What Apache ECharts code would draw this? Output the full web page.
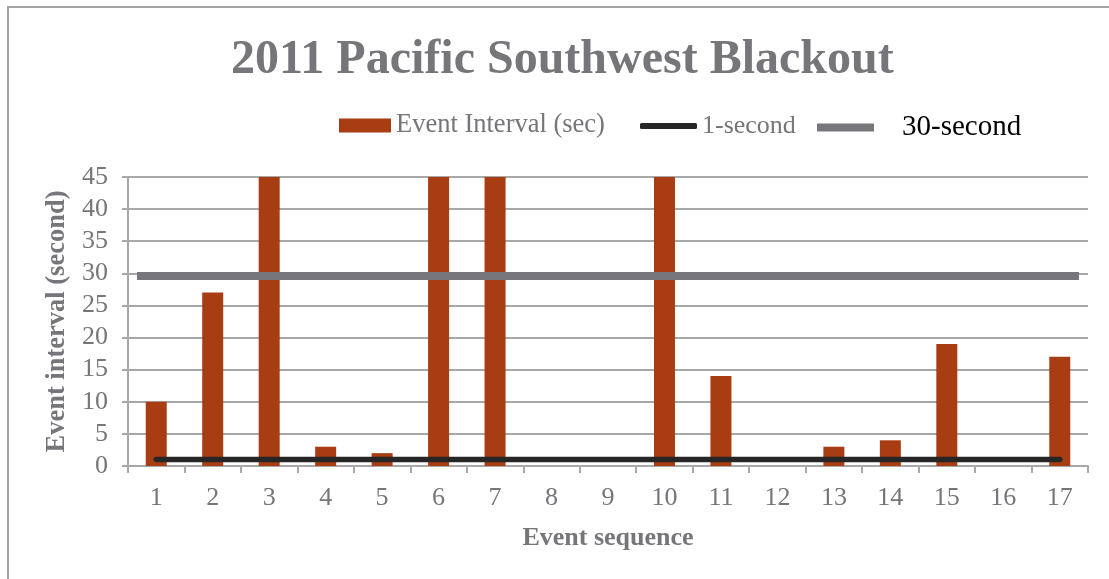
<!DOCTYPE html>
<html>
<head>
<meta charset="utf-8">
<script src="https://cdn.jsdelivr.net/npm/echarts@6/dist/echarts.min.js"></script>
<style>
  html, body { margin: 0; padding: 0; background: #ffffff; }
  #chart { width: 1109px; height: 579px; }
</style>
</head>
<body>
<div id="chart"></div>
<script>
// Event sequence numbers along the x axis
const categories = ['1','2','3','4','5','6','7','8','9','10','11','12','13','14','15','16','17'];
// Interval between successive events, seconds (tall events run past the 45 s axis top)
const eventInterval = [10, 27, 45, 3, 2, 45, 45, 0, 0, 45, 14, 0, 3, 4, 19, 0, 17];
// 1-second reference level, one point per event
const oneSecond = [1, 1, 1, 1, 1, 1, 1, 1, 1, 1, 1, 1, 1, 1, 1, 1, 1];
// 30-second reference level and its horizontal extent in event-sequence units
const thirtySecondLevel = 29.6;
const thirtySecondSpan = [0.66, 17.34];
// y axis range
const yMin = 0, yMax = 45, yStep = 5;

const serif = '"Liberation Serif", "Times New Roman", serif';
const grey = '#76767a';
const gridGrey = '#a8a8a8';

const chart = echarts.init(document.getElementById('chart'), null, { renderer: 'canvas' });

chart.setOption({
  backgroundColor: '#ffffff',
  animation: false,
  title: {
    text: '2011 Pacific Southwest Blackout',
    left: 226,
    top: 32,
    textStyle: { fontFamily: serif, fontSize: 48, fontWeight: 'bold', color: grey }
  },
  graphic: [{
    type: 'rect',
    shape: { x: 8, y: 7, width: 1200, height: 700 },
    style: { fill: 'none', stroke: '#a3a3a3', lineWidth: 2 },
    silent: true
  }],
  legend: [
    {
      left: 339, top: 112, padding: 0,
      data: [{ name: 'Event Interval (sec)', icon: 'rect' }],
      itemWidth: 52, itemHeight: 14,
      textStyle: { fontFamily: serif, fontSize: 26.5, color: grey }
    },
    {
      left: 640, top: 113, padding: 0,
      data: [{ name: '1-second', icon: 'roundRect' }],
      itemWidth: 57, itemHeight: 6,
      textStyle: { fontFamily: serif, fontSize: 26, color: grey }
    },
    {
      left: 817, top: 113, padding: 0,
      data: [{ name: '30-second', icon: 'rect' }],
      itemWidth: 57, itemHeight: 8,
      textStyle: { fontFamily: serif, fontSize: 29, color: '#000000', padding: [0, 0, 0, 23] }
    }
  ],
  grid: { left: 128, right: 21, top: 177, bottom: 113 },
  xAxis: [
    {
      type: 'category',
      data: categories,
      boundaryGap: true,
      name: 'Event sequence',
      nameLocation: 'middle',
      nameGap: 59,
      nameTextStyle: { fontFamily: serif, fontSize: 26, fontWeight: 'bold', color: grey },
      axisLine: { lineStyle: { color: gridGrey, width: 2 } },
      axisTick: { show: true, length: 7, alignWithLabel: false, lineStyle: { color: gridGrey, width: 2 } },
      axisLabel: { fontFamily: serif, fontSize: 26, color: grey, margin: 19 },
      splitLine: { show: false }
    },
    {
      type: 'value',
      min: 0.5,
      max: 17.5,
      show: false
    }
  ],
  yAxis: {
    type: 'value',
    min: yMin,
    max: yMax,
    interval: yStep,
    name: 'Event interval (second)',
    nameLocation: 'middle',
    nameGap: 56,
    nameTextStyle: { fontFamily: serif, fontSize: 26.5, fontWeight: 'bold', color: grey },
    axisLine: { show: true, lineStyle: { color: gridGrey, width: 2 } },
    axisTick: { show: true, length: 6, lineStyle: { color: gridGrey, width: 2 } },
    axisLabel: { fontFamily: serif, fontSize: 26, color: grey, margin: 20 },
    splitLine: { show: true, lineStyle: { color: gridGrey, width: 2 } }
  },
  series: [
    {
      name: 'Event Interval (sec)',
      type: 'bar',
      data: eventInterval,
      barWidth: 21,
      itemStyle: { color: '#a83c12' },
      z: 2
    },
    {
      name: '1-second',
      type: 'line',
      data: oneSecond,
      symbol: 'none',
      lineStyle: { color: '#262626', width: 5.5, cap: 'round' },
      itemStyle: { color: '#262626' },
      z: 4
    },
    {
      name: '30-second',
      type: 'line',
      xAxisIndex: 1,
      data: thirtySecondSpan.map(x => [x, thirtySecondLevel]),
      symbol: 'none',
      lineStyle: { color: '#77777b', width: 8, cap: 'butt' },
      itemStyle: { color: '#77777b' },
      z: 3
    }
  ]
});
</script>
</body>
</html>
